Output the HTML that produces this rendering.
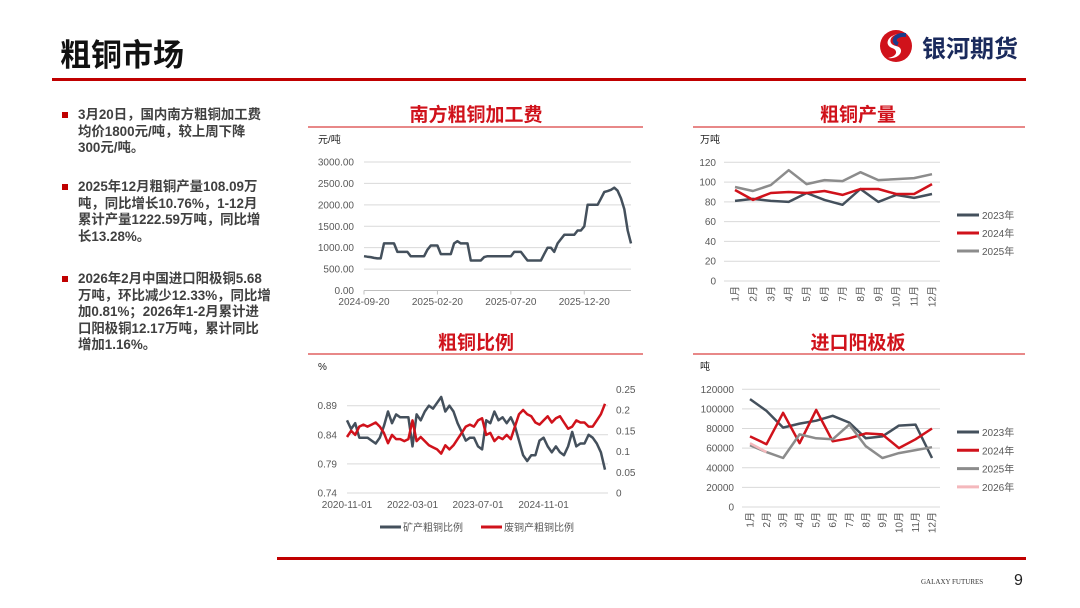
<!DOCTYPE html>
<html><head><meta charset="utf-8">
<style>
body{margin:0;background:#fff;}
#wrap{position:relative;width:1080px;height:608px;overflow:hidden;font-family:"Liberation Sans","Noto Sans CJK SC",sans-serif;}
.t{position:absolute;}
.bul{position:absolute;left:78px;font-size:13.4px;font-weight:bold;color:#404040;line-height:16.5px;white-space:nowrap;}
.bul:before{content:"";position:absolute;left:-16px;top:5px;width:6px;height:6px;background:#c00000;}
</style></head><body>
<div id="wrap">
<div class="t" style="left:60px;top:30px;font-size:31px;font-weight:bold;color:#111;font-family:'Noto Sans CJK SC',sans-serif;">粗铜市场</div>
<div class="t" style="left:52px;top:78px;width:974px;height:3px;background:#c00000;"></div>
<div class="t" style="left:876px;top:26px;width:150px;height:40px;">
<svg width="40" height="40" viewBox="0 0 40 40"><circle cx="20" cy="20" r="16" fill="#d0121b"/><path d="M28 8 C14 6 10 18 20 20 C30 22 24 34 12 32 C22 30 22 24 16 22 C6 18 14 6 28 8Z" fill="#fff"/><path d="M30 9 C18 8 16 16 22 18" stroke="#1a3c8c" stroke-width="4" fill="none"/></svg>
<span style="position:absolute;left:46px;top:3px;font-size:24px;font-weight:bold;color:#1a2a5c;">银河期货</span></div>

<div class="bul" style="top:107px;">3月20日，国内南方粗铜加工费<br>均价1800元/吨，较上周下降<br>300元/吨。</div>
<div class="bul" style="top:179px;">2025年12月粗铜产量108.09万<br>吨，同比增长10.76%，1-12月<br>累计产量1222.59万吨，同比增<br>长13.28%。</div>
<div class="bul" style="top:271px;">2026年2月中国进口阳极铜5.68<br>万吨，环比减少12.33%，同比增<br>加0.81%；2026年1-2月累计进<br>口阳极铜12.17万吨，累计同比<br>增加1.16%。</div>

<div class="t" style="left:277px;top:557px;width:749px;height:3px;background:#c00000;"></div>
<div class="t" style="left:921px;top:578px;font-size:7px;color:#333;font-family:'Liberation Serif',serif;">GALAXY FUTURES</div>
<div class="t" style="left:1014px;top:572px;font-size:16px;color:#222;">9</div>

<svg id="ch" class="t" style="left:0;top:0" width="1080" height="608"></svg>
</div>
<script>
// Chart 1: 南方粗铜加工费 (weekly)
const feeVals=[800,790,780,760,750,750,1100,1100,1100,1100,900,900,900,900,800,800,800,800,800,950,1050,1050,1050,850,850,850,850,1100,1150,1100,1100,1100,700,700,700,700,780,800,800,800,800,800,800,800,800,900,900,900,800,700,700,700,700,700,850,1000,1000,900,1100,1200,1300,1300,1300,1300,1400,1400,1500,2000,2000,2000,2000,2150,2300,2320,2350,2400,2330,2150,1900,1400,1100];
const feeTicks=["0.00","500.00","1000.00","1500.00","2000.00","2500.00","3000.00"];
const feeDates=["2024-09-20","2025-02-20","2025-07-20","2025-12-20"];
const feeDateIdx=[0,22,44,66];
// Chart 2: 粗铜产量
const months=["1月","2月","3月","4月","5月","6月","7月","8月","9月","10月","11月","12月"];
const out2023=[81,83,81,80,89,82,77,93,80,87,84,88];
const out2024=[92,82,89,90,89,91,87,93,93,88,88,98];
const out2025=[95,91,97,112,98,102,101,110,102,103,104,108];
const outTicks=[0,20,40,60,80,100,120];
// Chart 3: 粗铜比例 (monthly)
const mineRatio=[0.865,0.85,0.86,0.835,0.835,0.835,0.83,0.825,0.835,0.855,0.88,0.86,0.875,0.87,0.87,0.87,0.82,0.875,0.865,0.88,0.89,0.885,0.895,0.905,0.88,0.89,0.88,0.86,0.845,0.83,0.835,0.835,0.82,0.815,0.865,0.86,0.88,0.865,0.87,0.86,0.87,0.855,0.83,0.805,0.795,0.805,0.805,0.83,0.835,0.82,0.81,0.82,0.81,0.805,0.82,0.845,0.82,0.825,0.825,0.84,0.835,0.825,0.81,0.78];
const scrapRatio=[0.135,0.15,0.14,0.16,0.165,0.16,0.165,0.17,0.16,0.145,0.12,0.14,0.13,0.13,0.125,0.13,0.175,0.125,0.135,0.125,0.115,0.11,0.105,0.095,0.115,0.105,0.115,0.13,0.145,0.16,0.165,0.16,0.175,0.18,0.14,0.145,0.125,0.135,0.13,0.14,0.13,0.16,0.19,0.2,0.19,0.185,0.17,0.165,0.175,0.185,0.17,0.18,0.185,0.17,0.155,0.16,0.175,0.17,0.17,0.16,0.16,0.175,0.19,0.215];
const ratioLTicks=["0.74","0.79","0.84","0.89"];
const ratioRTicks=["0","0.05","0.1","0.15","0.2","0.25"];
const ratioDates=["2020-11-01","2022-03-01","2023-07-01","2024-11-01"];
const ratioDateIdx=[0,16,32,48];
// Chart 4: 进口阳极板 (千吨)
const imp2023=[110,98,81,85,88,93,86,70,72,83,84,50];
const imp2024=[72,64,96,65,99,67,70,75,74,60,69,80];
const imp2025=[63,56,50,74,70,69,84,62,50,55,58,61];
const imp2026=[65,56];
const impTicks=[0,20000,40000,60000,80000,100000,120000];

const svg=document.getElementById('ch');const NS="http://www.w3.org/2000/svg";
function el(tag,a,txt){const e=document.createElementNS(NS,tag);for(const k in a)e.setAttribute(k,a[k]);if(txt!==undefined)e.textContent=txt;svg.appendChild(e);return e;}
function txt(x,y,s,o){o=o||{};const e=el('text',{x:x,y:y,'font-size':o.fs||10,fill:o.fill||'#595959','text-anchor':o.anchor||'start','font-family':'Liberation Sans, Noto Sans CJK SC, sans-serif','font-weight':o.fw||'normal'},s);if(o.rot)e.setAttribute('transform','rotate(-90 '+x+' '+y+')');return e;}
function line(vals,xf,yf,color,w){const d=vals.map((v,i)=>(i?'L':'M')+xf(i).toFixed(1)+' '+yf(v).toFixed(1)).join('');return el('path',{d:d,fill:'none',stroke:color,'stroke-width':w||2.5,'stroke-linejoin':'round'});}
function title(cx,y,s,x1,x2,ry){const t=txt(cx,y,s,{fs:19,fill:'#d0121b',anchor:'middle',fw:'bold'});const r=el('line',{x1:x1,x2:x2,y1:ry,y2:ry,stroke:'#e06060','stroke-width':1.5});}
function grid(x1,x2,y){el('line',{x1:x1,x2:x2,y1:y,y2:y,stroke:'#d9d9d9','stroke-width':1});}
const DK='#44505c',RD='#d0121b',GR='#8c8c8c',PK='#f4b8bc';

// Chart 1
title(476,121,"南方粗铜加工费",308,643,127);
txt(318,143,"元/吨",{fs:10,fill:'#222'});
{const x0=364,x1=631,y0=290.5,yt=162;const xf=i=>x0+i*(x1-x0)/(feeVals.length-1);const yf=v=>y0-(v/3000)*(y0-yt);
feeTicks.forEach((t,i)=>{const v=i*500;grid(x0,631,yf(v));txt(354,yf(v)+3.5,t,{anchor:'end'});});
el('line',{x1:x0,x2:631,y1:y0,y2:y0,stroke:'#bfbfbf'});
feeDates.forEach((d,i)=>{txt(xf(feeDateIdx[i]),305,d,{anchor:'middle'});el('line',{x1:xf(feeDateIdx[i]),x2:xf(feeDateIdx[i]),y1:y0,y2:y0+4,stroke:'#bfbfbf'});});
const p=line(feeVals,xf,yf,DK,2.5);}

// Chart 2
title(858,121,"粗铜产量",693,1025,127);
txt(700,143,"万吨",{fs:10,fill:'#222'});
{const x0=735,st=(932-735)/11,y0=281,yt=162.3;const xf=i=>x0+i*st;const yf=v=>y0-(v/120)*(y0-yt);
outTicks.forEach(v=>{grid(724,940,yf(v));txt(716,yf(v)+3.5,String(v),{anchor:'end'});});
months.forEach((m,i)=>txt(xf(i)+3.5,286,m,{anchor:'end',rot:true}));
[[out2023,DK,'output-2023-line'],[out2024,RD,'output-2024-line'],[out2025,GR,'output-2025-line']].forEach((s,k)=>{const p=line(s[0],xf,yf,s[1]);
const ly=215+k*18;el('line',{x1:957,x2:979,y1:ly,y2:ly,stroke:s[1],'stroke-width':3});txt(982,ly+4,(2023+k)+"年",{fs:10});});}

// Chart 3
title(476,349,"粗铜比例",308,643,354);
txt(318,370,"%",{fs:10,fill:'#222'});
{const x0=347,x1=605,y0=493,ytl=405.7,ytr=389.3;const xf=i=>x0+i*(x1-x0)/(mineRatio.length-1);
const yl=v=>y0-((v-0.74)/0.15)*(y0-ytl);const yr=v=>y0-(v/0.25)*(y0-ytr);
ratioLTicks.forEach(t=>{grid(x0,x1+3,yl(+t));txt(337,yl(+t)+3.5,t,{anchor:'end'});});
ratioRTicks.forEach(t=>txt(616,yr(+t)+3.5,t));
ratioDates.forEach((d,i)=>txt(xf(ratioDateIdx[i]),508,d,{anchor:'middle'}));
const a=line(mineRatio,xf,yl,DK,2.5);
const b=line(scrapRatio,xf,yr,RD,2.5);
el('line',{x1:380,x2:401,y1:527,y2:527,stroke:DK,'stroke-width':3});txt(403,531,"矿产粗铜比例",{fs:10});
el('line',{x1:481,x2:502,y1:527,y2:527,stroke:RD,'stroke-width':3});txt(504,531,"废铜产粗铜比例",{fs:10});}

// Chart 4
title(858,349,"进口阳极板",693,1025,354);
txt(700,370,"吨",{fs:10,fill:'#222'});
{const x0=750,st=(932-750)/11,y0=507,yt=389.3;const xf=i=>x0+i*st;const yf=v=>y0-(v/120000)*(y0-yt);const yk=v=>yf(v*1000);
impTicks.forEach(v=>{grid(742,940,yf(v));txt(734,yf(v)+3.5,String(v),{anchor:'end'});});
months.forEach((m,i)=>txt(xf(i)+3.5,512,m,{anchor:'end',rot:true}));
[[imp2023,DK,'import-2023-line'],[imp2024,RD,'import-2024-line'],[imp2025,GR,'import-2025-line'],[imp2026,PK,'import-2026-line']].forEach((s,k)=>{const p=line(s[0],xf,yk,s[1]);
const ly=432+k*18.3;el('line',{x1:957,x2:979,y1:ly,y2:ly,stroke:s[1],'stroke-width':3});txt(982,ly+4,(2023+k)+"年",{fs:10});});}
</script>
</body></html>
